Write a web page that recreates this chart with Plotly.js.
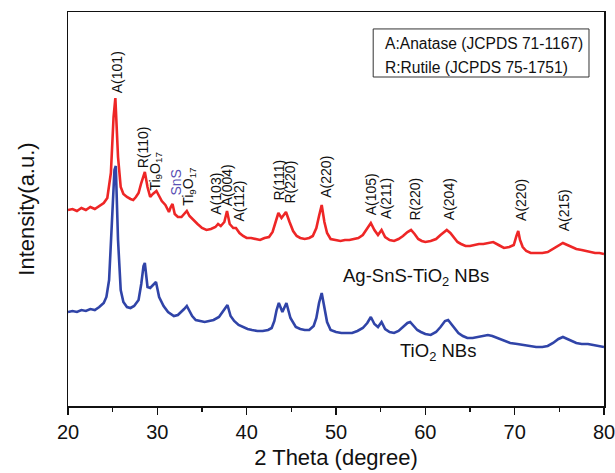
<!DOCTYPE html>
<html>
<head>
<meta charset="utf-8">
<script src="https://cdn.plot.ly/plotly-3.0.1.min.js"></script>
<style>html,body{margin:0;padding:0;background:#fff;}#chart{width:615px;height:473px;}</style>
</head>
<body>
<div id="chart"></div>
<script>
// 2 theta (degree) and intensity (a.u.) for Ag-SnS-TiO2 NBs (red)
const redTheta = [20.0,20.5,21.0,21.5,22.0,22.5,23.0,23.5,24.0,24.4,24.8,25.1,25.3,25.6,25.9,26.2,26.6,27.0,27.3,27.6,27.9,28.2,28.5,28.6,28.9,29.2,29.5,29.9,30.2,30.5,30.9,31.3,31.5,31.7,31.95,32.3,32.7,33.0,33.3,33.6,34.0,34.5,35.0,35.5,36.0,36.5,36.8,37.1,37.5,37.8,38.1,38.5,38.8,39.2,39.6,40.0,40.5,41.0,41.5,42.0,42.5,42.9,43.2,43.55,43.9,44.4,44.8,45.2,45.6,46.0,46.5,47.0,47.4,47.8,48.1,48.4,48.7,49.0,49.4,50.0,50.5,51.0,51.5,52.0,52.5,53.0,53.5,53.9,54.3,54.7,55.1,55.5,56.0,56.5,57.0,57.5,58.0,58.4,58.8,59.2,59.6,60.0,60.6,61.2,61.7,62.1,62.4,62.8,63.2,63.6,64.0,64.5,65.0,65.5,66.0,66.5,67.0,67.6,68.2,68.8,69.4,69.9,70.2,70.4,70.6,70.9,71.3,71.8,72.5,73.1,73.7,74.3,74.9,75.4,75.9,76.4,76.9,77.5,78.0,78.5,79.0,79.5,80.0];
const redIntensity = [196,197,195,198,196,199,197,200,203,208,233,289,308,249,219,212,209,207,206,209,213,223,233,234,219,209,212,215,210,205,201,194,199,202,192,189,189,192,195,190,186,182,178,176,177,179,182,180,184,195,182,178,178,173,170,168,168,167,166,168,169,174,184,193,188,194,184,175,170,168,167,168,170,178,190,201,184,173,167,166,165,166,166,167,168,171,177,183,176,171,176,169,166,165,167,170,174,176,172,167,165,164,165,167,171,174,176,173,168,164,162,160,160,161,162,162,163,164,161,158,159,161,170,175,166,159,155,153,153,153,154,157,160,163,161,159,157,156,155,154,153,153,152];

// 2 theta (degree) and intensity (a.u.) for TiO2 NBs (blue)
const blueTheta = [20.0,20.5,21.0,21.5,22.0,22.5,23.0,23.5,24.0,24.3,24.6,24.95,25.2,25.35,25.6,25.9,26.2,26.6,27.0,27.4,27.9,28.2,28.45,28.6,28.9,29.2,29.5,29.85,30.2,30.7,31.2,31.85,32.3,32.7,33.0,33.3,33.6,33.9,34.3,34.8,35.3,35.8,36.3,36.9,37.4,37.85,38.2,38.6,39.1,39.6,40.1,40.6,41.2,41.8,42.4,42.8,43.1,43.35,43.6,44.0,44.45,44.9,45.5,46.0,46.5,47.0,47.5,47.8,48.1,48.4,48.7,49.0,49.4,50.0,50.6,51.2,51.8,52.4,53.0,53.5,53.9,54.3,54.7,55.1,55.5,56.0,56.5,57.0,57.5,58.0,58.3,58.7,59.1,59.5,60.0,60.6,61.2,61.7,62.2,62.55,62.9,63.3,63.7,64.2,64.7,65.3,65.9,66.5,67.0,67.5,68.1,68.8,69.5,70.3,71.0,71.7,72.4,73.1,73.7,74.3,74.9,75.4,75.9,76.4,76.9,77.5,78.2,78.8,79.4,80.0];
const blueIntensity = [94,95,94,96,95,97,96,99,103,109,126,183,236,240,166,116,104,99,98,100,106,122,140,143,119,118,121,124,109,100,94,90,91,94,97,100,95,90,86,85,84,85,86,89,95,101,90,85,81,79,77,76,75,75,76,78,85,96,103,94,103,88,79,77,76,76,80,88,103,113,98,84,76,74,73,73,73,75,78,83,89,82,79,84,77,74,73,75,79,83,84,80,76,74,72,71,74,79,85,86,82,77,73,70,68,68,69,70,71,70,68,65,63,62,61,60,59,59,60,63,67,69,67,65,63,62,62,61,60,59];

// Peak labels
const peakLabels = ["A(101)","R(110)","Ti<sub>9</sub>O<sub>17</sub>","SnS","Ti<sub>9</sub>O<sub>17</sub>","A(103)","A(004)","A(112)","R(111)","R(220)","A(220)","A(105)","A(211)","R(220)","A(204)","A(220)","A(215)"];
const peakTheta = [25.51,28.43,29.8,32.04,33.53,36.53,37.84,39.14,43.51,44.85,48.85,53.95,55.53,58.74,62.67,70.7,75.55];
const peakLabelBase = [311,236,213,208,198,189,198,183,203,201,206,189,185,183,184,183,173];

const seriesNames = ["Ag-SnS-TiO<sub>2</sub> NBs","TiO<sub>2</sub> NBs"];
const refLines = ["A:Anatase (JCPDS 71-1167)","R:Rutile (JCPDS 75-1751)"];

const FONT = "Liberation Sans, Arial, Helvetica, sans-serif";
const RED = "rgb(238,38,38)";
const BLUE = "rgb(48,68,168)";

const traces = [
  {x: blueTheta, y: blueIntensity, type: "scatter", mode: "lines", line: {color: BLUE, width: 2.6}, hoverinfo: "skip"},
  {x: redTheta, y: redIntensity, type: "scatter", mode: "lines", line: {color: RED, width: 2.6}, hoverinfo: "skip"}
];

const annotations = peakLabels.map((t, i) => ({
  x: peakTheta[i], y: peakLabelBase[i], xref: "x", yref: "y",
  text: t, textangle: -90, showarrow: false,
  xanchor: "center", yanchor: "bottom",
  font: {family: FONT, size: 14, color: t === "SnS" ? "rgb(90,80,180)" : "#111"}
}));

annotations.push({x: 59.0, y: 129, xref: "x", yref: "y", text: seriesNames[0], showarrow: false,
  xanchor: "center", yanchor: "middle", font: {family: FONT, size: 18.5, color: "#111"}});
annotations.push({x: 61.4, y: 54, xref: "x", yref: "y", text: seriesNames[1], showarrow: false,
  xanchor: "center", yanchor: "middle", font: {family: FONT, size: 18.5, color: "#111"}});

annotations.push({x: 0.588, y: 0.921, xref: "paper", yref: "paper", text: refLines[0], showarrow: false,
  xanchor: "left", yanchor: "middle", font: {family: FONT, size: 15.6, color: "#111"}});
annotations.push({x: 0.588, y: 0.860, xref: "paper", yref: "paper", text: refLines[1], showarrow: false,
  xanchor: "left", yanchor: "middle", font: {family: FONT, size: 15.6, color: "#111"}});

const layout = {
  width: 615, height: 473,
  margin: {l: 67.5, r: 11, t: 12, b: 67},
  paper_bgcolor: "#fff", plot_bgcolor: "#fff",
  showlegend: false,
  font: {family: FONT, color: "#111"},
  xaxis: {
    range: [20, 80], tickvals: [20,30,40,50,60,70,80],
    ticklabeloverflow: "allow",
    ticks: "outside", ticklen: 7, tickwidth: 1.5, tickcolor: "#111",
    minor: {tickvals: [25,35,45,55,65,75], ticks: "outside", ticklen: 4, tickwidth: 1.5, tickcolor: "#111"},
    showline: true, linecolor: "#111", linewidth: 1.5, mirror: true,
    showgrid: false, zeroline: false,
    tickfont: {family: FONT, size: 20, color: "#111"},
    title: {text: "2 Theta (degree)", font: {family: FONT, size: 22, color: "#111"}, standoff: 8}
  },
  yaxis: {
    range: [0, 394], showticklabels: false, ticks: "",
    showline: true, linecolor: "#111", linewidth: 1.5, mirror: true,
    showgrid: false, zeroline: false,
    title: {text: "Intensity(a.u.)", font: {family: FONT, size: 22, color: "#111"}, standoff: 26}
  },
  shapes: [{type: "rect", xref: "paper", yref: "paper", x0: 0.5694, x1: 0.972, y0: 0.835, y1: 0.957,
    line: {color: "#333", width: 1}, fillcolor: "rgba(0,0,0,0)"}],
  annotations: annotations
};

Plotly.newPlot("chart", traces, layout, {staticPlot: true, displayModeBar: false});
</script>
</body>
</html>
